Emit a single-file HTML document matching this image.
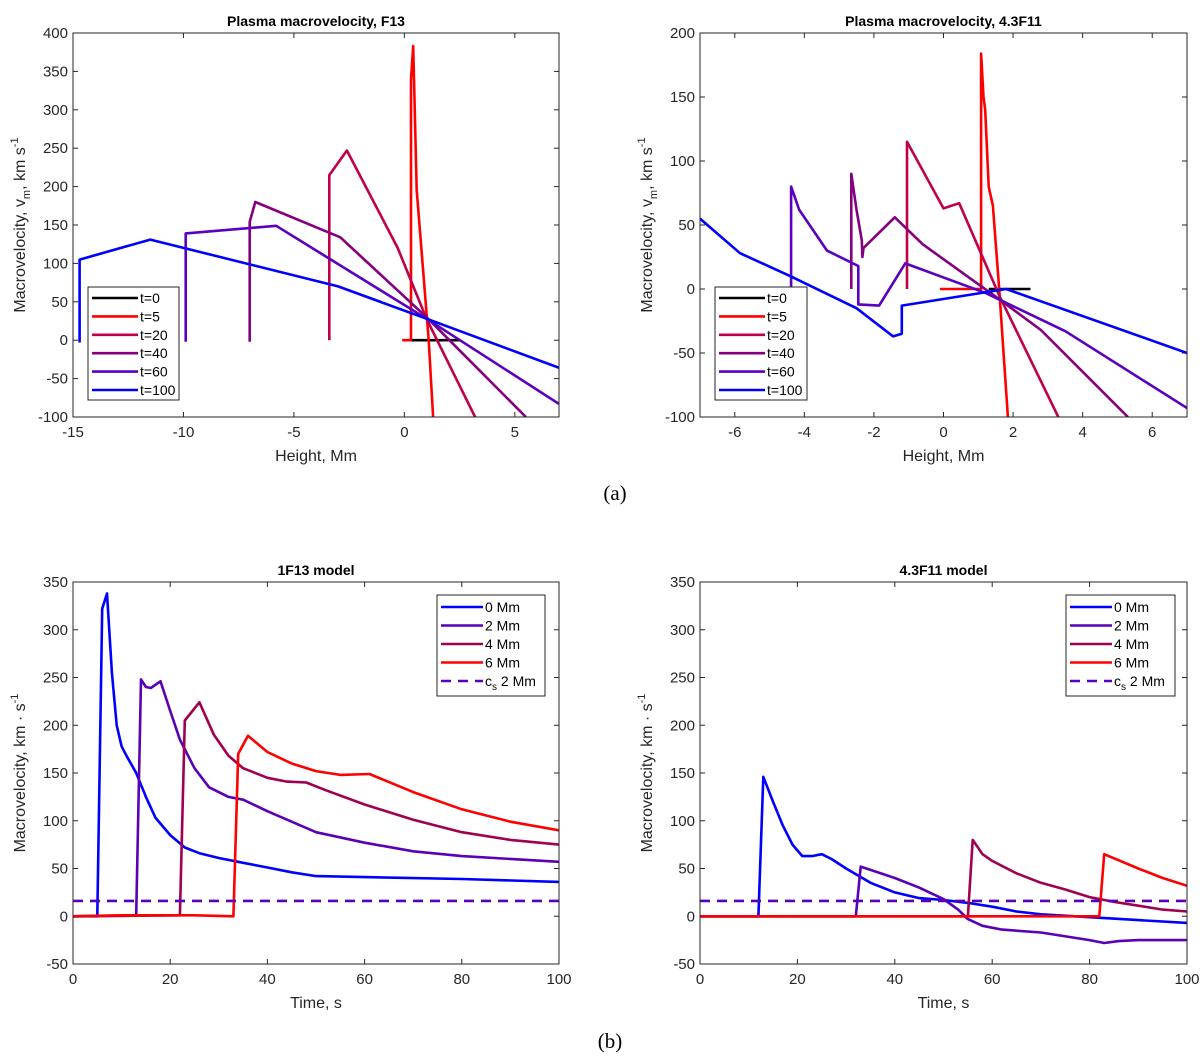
<!DOCTYPE html>
<html><head><meta charset="utf-8"><style>
body{margin:0;background:#fff}
svg{display:block;font-family:"Liberation Sans",sans-serif}
</style></head><body>
<svg id="fig" width="1200" height="1062" viewBox="0 0 1200 1062">
<text x="615" y="500" font-family="Liberation Serif,serif" font-size="21" text-anchor="middle">(a)</text>
<text x="610" y="1048" font-family="Liberation Serif,serif" font-size="21" text-anchor="middle">(b)</text>
</svg>
<script>
// Panel A: Plasma macrovelocity, F13 (x: height Mm, y: km/s)
const aLabels=["t=0","t=5","t=20","t=40","t=60","t=100"];
const aT0=[[0.3,0],[2.5,0]];
const aT5=[[-0.1,0],[0.3,0],[0.3,340],[0.4,383],[0.56,195],[0.7,145],[1.1,0],[1.3,-100]];
const aT20=[[-3.4,0],[-3.4,215],[-2.6,247],[-0.3,120],[1.0,28],[3.2,-100]];
const aT40=[[-7.0,-2],[-7.0,154],[-6.75,180],[-2.9,134],[1.0,30],[5.5,-100]];
const aT60=[[-9.9,-2],[-9.9,139],[-5.8,149],[1.0,28],[7,-83]];
const aT100=[[-14.7,-3],[-14.7,105],[-11.5,131],[-3.0,70],[1.0,28],[7,-36]];
// Panel B: Plasma macrovelocity, 4.3F11
const bT0=[[1.3,0],[2.5,0]];
const bT5=[[-0.1,0],[1.08,0],[1.08,184],[1.15,150],[1.2,140],[1.3,80],[1.42,65],[1.6,0],[1.85,-100]];
const bT20=[[-1.05,0],[-1.05,115],[0.0,63],[0.45,67],[1.6,-5],[3.3,-100]];
const bT40=[[-2.65,0],[-2.65,90],[-2.5,62],[-2.35,38],[-2.33,25],[-2.3,32],[-1.4,56],[-0.6,35],[1.6,-8],[2.8,-32],[5.3,-100]];
const bT60=[[-4.38,0],[-4.38,80],[-4.15,62],[-3.35,30],[-2.45,18],[-2.45,-12],[-1.85,-13],[-1.1,20],[1.2,-3],[3.5,-33],[7,-93]];
const bT100=[[-7,55],[-5.85,28],[-4.4,10],[-2.5,-15],[-1.45,-37],[-1.2,-35],[-1.2,-13],[1.8,0],[7,-50]];
// Panel C: 1F13 model (x: time s)
const cLabels=["0 Mm","2 Mm","4 Mm","6 Mm","c_s 2 Mm"];
const c0=[[0,0],[5,0],[6,322],[7,338],[8,255],[9,200],[10,178],[11,168],[13,150],[15,125],[17,103],[20,85],[23,72],[26,66],[30,61],[35,56],[40,51],[45,46],[50,42],[60,41],[80,39],[100,36]];
const c2=[[0,0],[13,1],[14,248],[15,240],[16,239],[18,246],[20,215],[22,185],[25,155],[28,135],[32,125],[35,122],[40,110],[50,88],[60,77],[70,68],[80,63],[100,57]];
const c4=[[0,0],[22,1],[23,205],[26,224],[29,190],[32,168],[35,155],[40,145],[44,141],[48,140],[52,132],[60,117],[70,101],[80,88],[90,80],[100,75]];
const c6=[[0,0],[10,1],[25,1],[33,0],[34,170],[36,189],[40,172],[45,160],[50,152],[55,148],[61,149],[70,130],[80,112],[90,99],[100,90]];
const cCs=16;
// Panel D: 4.3F11 model
const d0=[[0,0],[12,0],[13,146],[15,120],[17,95],[19,75],[21,63],[23,63],[25,65],[27,60],[30,50],[35,35],[40,25],[45,19],[50,17],[55,14],[60,10],[65,5],[70,2],[80,-1],[90,-4],[100,-7]];
const d2=[[0,0],[32,0],[33,52],[40,40],[45,30],[50,18],[53,7],[55,-3],[58,-10],[62,-14],[70,-17],[80,-25],[83,-28],[86,-26],[90,-25],[100,-25]];
const d4=[[0,0],[55,0],[56,80],[58,65],[60,58],[65,45],[70,35],[75,28],[80,20],[85,15],[90,11],[95,7],[100,5]];
const d6=[[0,0],[82,0],[83,65],[90,50],[95,40],[100,32]];
const dCs=16;
const aXTicks=[-15,-10,-5,0,5];
const aYTicks=[-100,-50,0,50,100,150,200,250,300,350,400];
const bXTicks=[-6,-4,-2,0,2,4,6];
const bYTicks=[-100,-50,0,50,100,150,200];
const cXTicks=[0,20,40,60,80,100];
const cYTicks=[-50,0,50,100,150,200,250,300,350];

const NS="http://www.w3.org/2000/svg";
const svg=document.getElementById('fig');
function mk(tag,at,parent){const e=document.createElementNS(NS,tag);for(const k in at)e.setAttribute(k,at[k]);(parent||svg).appendChild(e);return e;}

function panel(o){
  const g=mk('g',{});
  
  
  const X=v=>o.x0+(v-o.xmin)/(o.xmax-o.xmin)*(o.x1-o.x0);
  const Y=v=>o.y1-(v-o.ymin)/(o.ymax-o.ymin)*(o.y1-o.y0);
  const cp='cp'+o.name;
  const cl=mk('clipPath',{id:cp},g);mk('rect',{x:o.x0,y:o.y0,width:o.x1-o.x0,height:o.y1-o.y0},cl);
  o.xt.forEach(v=>{
    const x=X(v);
    mk('line',{x1:x,x2:x,y1:o.y1,y2:o.y1-5,stroke:'#262626'},g);
    mk('line',{x1:x,x2:x,y1:o.y0,y2:o.y0+5,stroke:'#262626'},g);
    const t=mk('text',{x:x,y:o.y1+20,'font-size':15,fill:'#262626','text-anchor':'middle'},g);t.textContent=v;
    
    
  });
  o.yt.forEach(v=>{
    const y=Y(v);
    mk('line',{x1:o.x0,x2:o.x0+5,y1:y,y2:y,stroke:'#262626'},g);
    mk('line',{x1:o.x1,x2:o.x1-5,y1:y,y2:y,stroke:'#262626'},g);
    const t=mk('text',{x:o.x0-5,y:y+5,'font-size':15,fill:'#262626','text-anchor':'end'},g);t.textContent=v;
    
    
  });
  o.series.forEach(s=>{
    let d;
    if(s.h!==undefined){d='M'+o.x0+' '+Y(s.h)+'L'+o.x1+' '+Y(s.h);}
    else d=s.d.map((p,i)=>(i?'L':'M')+X(p[0]).toFixed(1)+' '+Y(p[1]).toFixed(1)).join('');
    const p=mk('path',{d:d,fill:'none',stroke:s.c,'stroke-width':2.6,'stroke-linejoin':'round','clip-path':'url(#'+cp+')'},g);
    if(s.h!==undefined)p.setAttribute('stroke-dasharray','10,7');
    
    
  });
  mk('rect',{x:o.x0,y:o.y0,width:o.x1-o.x0,height:o.y1-o.y0,fill:'none',stroke:'#262626','stroke-width':1},g);
  const ti=mk('text',{x:(o.x0+o.x1)/2,y:o.y0-7,'font-size':14,'font-weight':'bold','text-anchor':'middle'},g);ti.textContent=o.title;
  
  
  const xl=mk('text',{x:(o.x0+o.x1)/2,y:o.y1+44,'font-size':16,fill:'#262626','text-anchor':'middle'},g);xl.textContent=o.xlabel;
  
  
  const yl=mk('text',{x:0,y:0,'font-size':16,fill:'#262626','text-anchor':'middle',transform:'translate('+(o.x0-48)+','+((o.y0+o.y1)/2)+') rotate(-90)'},g);
  yl.innerHTML=o.ylabel;
  
  
  const L=o.leg;
  const lg=mk('g',{},g);
  
  
  mk('rect',{x:L.x,y:L.y,width:L.w,height:L.h,fill:'#fff',stroke:'#262626'},lg);
  o.series.forEach((s,i)=>{
    const yy=L.y+L.pad+i*L.dy;
    const ln=mk('line',{x1:L.x+4,x2:L.x+4+L.lw,y1:yy,y2:yy,stroke:s.c,'stroke-width':2.6},lg);
    if(s.h!==undefined)ln.setAttribute('stroke-dasharray','10,7');
    const t=mk('text',{x:L.x+L.lw+6,y:yy+5,'font-size':14},lg);
    if(s.l==='c_s 2 Mm')t.innerHTML='c<tspan dy="4" font-size="10">s</tspan><tspan dy="-4"> 2 Mm</tspan>';else t.textContent=s.l;
    
    
  });
}
const ylabA='Macrovelocity, v<tspan dy="5" font-size="11">m</tspan><tspan dy="-5">, km s</tspan><tspan dy="-7" font-size="11">-1</tspan>';
const ylabC='Macrovelocity, km · s<tspan dy="-7" font-size="11">-1</tspan>';
const colA=['#000000','#ff0000','#c0004a','#84007f','#5a00c0','#0000ff'];
const colC=['#0000ff','#5a00b5','#a00050','#ff0000','#5a00b5'];
panel({name:'panel-f13-height',title:'Plasma macrovelocity, F13',xlabel:'Height, Mm',ylabel:ylabA,
 x0:73,x1:559,y0:33,y1:417,xmin:-15,xmax:7,ymin:-100,ymax:400,xt:aXTicks,yt:aYTicks,
 series:[aT0,aT5,aT20,aT40,aT60,aT100].map((d,i)=>({d:d,c:colA[i],l:aLabels[i]})),
 leg:{x:88,y:287,w:91,h:113,pad:11,dy:18.4,lw:46}});
panel({name:'panel-43f11-height',title:'Plasma macrovelocity, 4.3F11',xlabel:'Height, Mm',ylabel:ylabA,
 x0:700,x1:1187,y0:33,y1:417,xmin:-7,xmax:7,ymin:-100,ymax:200,xt:bXTicks,yt:bYTicks,
 series:[bT0,bT5,bT20,bT40,bT60,bT100].map((d,i)=>({d:d,c:colA[i],l:aLabels[i]})),
 leg:{x:715,y:287,w:92,h:113,pad:11,dy:18.4,lw:46}});
panel({name:'panel-1f13-time',title:'1F13 model',xlabel:'Time, s',ylabel:ylabC,
 x0:73,x1:559,y0:582,y1:964,xmin:0,xmax:100,ymin:-50,ymax:350,xt:cXTicks,yt:cYTicks,
 series:[{d:c0,c:colC[0],l:cLabels[0]},{d:c2,c:colC[1],l:cLabels[1]},{d:c4,c:colC[2],l:cLabels[2]},{d:c6,c:colC[3],l:cLabels[3]},{h:cCs,c:colC[4],l:cLabels[4]}],
 leg:{x:437,y:595,w:108,h:101,pad:12,dy:18.5,lw:42}});
panel({name:'panel-43f11-time',title:'4.3F11 model',xlabel:'Time, s',ylabel:ylabC,
 x0:700,x1:1187,y0:582,y1:964,xmin:0,xmax:100,ymin:-50,ymax:350,xt:cXTicks,yt:cYTicks,
 series:[{d:d0,c:colC[0],l:cLabels[0]},{d:d2,c:colC[1],l:cLabels[1]},{d:d4,c:colC[2],l:cLabels[2]},{d:d6,c:colC[3],l:cLabels[3]},{h:dCs,c:colC[4],l:cLabels[4]}],
 leg:{x:1066,y:595,w:109,h:101,pad:12,dy:18.5,lw:42}});
</script>
</body></html>
